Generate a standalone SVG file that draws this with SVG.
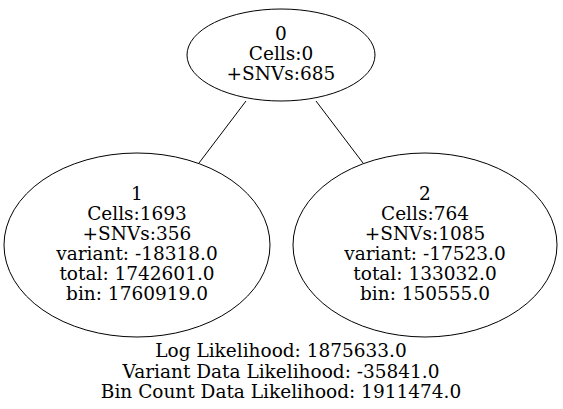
<svg xmlns="http://www.w3.org/2000/svg" width="563" height="409" viewBox="0 0 563 409">
<style>
text{font-family:"DejaVu Serif","Liberation Serif",serif;font-size:18.5px;text-anchor:middle;fill:#000}
ellipse{fill:none;stroke:#000;stroke-width:1}
line{stroke:#000;stroke-width:1}
</style>
<rect width="563" height="409" fill="#fff"/>
<g id="edges">
<line x1="246" y1="101" x2="199" y2="163"/>
<line x1="316" y1="101" x2="363" y2="163"/>
</g>
<g id="node0">
<ellipse cx="281" cy="55" rx="94" ry="46"/>
<text x="281" y="40">0</text>
<text x="281" y="60">Cells:0</text>
<text x="281" y="80">+SNVs:685</text>
</g>
<g id="node1">
<ellipse cx="137" cy="245" rx="133" ry="92"/>
<text x="137" y="200">1</text>
<text x="137" y="220">Cells:1693</text>
<text x="137" y="240">+SNVs:356</text>
<text x="137" y="260">variant: -18318.0</text>
<text x="137" y="280">total: 1742601.0</text>
<text x="137" y="300">bin: 1760919.0</text>
</g>
<g id="node2">
<ellipse cx="425" cy="245" rx="132" ry="92"/>
<text x="425" y="200">2</text>
<text x="425" y="220">Cells:764</text>
<text x="425" y="240">+SNVs:1085</text>
<text x="425" y="260">variant: -17523.0</text>
<text x="425" y="280">total: 133032.0</text>
<text x="425" y="300">bin: 150555.0</text>
</g>
<g id="label">
<text x="281" y="357">Log Likelihood: 1875633.0</text>
<text x="281" y="378">Variant Data Likelihood: -35841.0</text>
<text x="281" y="398">Bin Count Data Likelihood: 1911474.0</text>
</g>
</svg>
